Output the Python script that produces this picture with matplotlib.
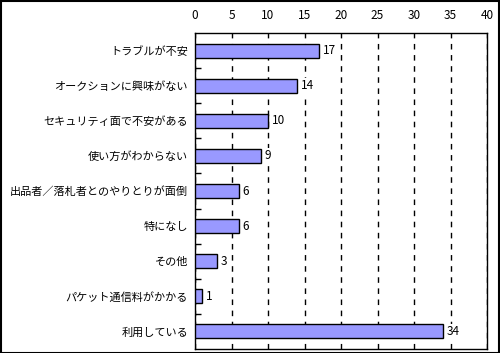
import matplotlib.pyplot as plt
import numpy as np

plt.rcParams['font.family'] = ['Noto Sans CJK JP', 'DejaVu Sans']

categories = ['トラブルが不安', 'オークションに興味がない', 'セキュリティ面で不安がある',
              '使い方がわからない', '出品者／落札者とのやりとりが面倒', '特になし',
              'その他', 'パケット通信料がかかる', '利用している']
values = [17, 14, 10, 9, 6, 6, 3, 1, 34]
xticks = [0, 5, 10, 15, 20, 25, 30, 35, 40]

fig = plt.figure(figsize=(5.0, 3.53), dpi=100)
ax = fig.add_axes([0.39, 0.0113, 0.584, 0.8952])

y = np.arange(len(categories))
ax.barh(y, values, height=0.4, color='#9999ff', edgecolor='black', linewidth=1, zorder=3)
for yi, v in zip(y, values):
    ax.text(v + 0.5, yi, str(v), va='center', ha='left', fontsize=8.5, zorder=4,
            bbox=dict(facecolor='white', edgecolor='none', pad=1))

ax.set_ylim(len(categories) - 0.5, -0.5)
ax.set_xlim(0, 40)
ax.set_xticks(xticks)
ax.xaxis.tick_top()
ax.tick_params(axis='x', length=0, labelsize=8.5, pad=8)
ax.set_yticks(y)
ax.set_yticklabels(categories, fontsize=8)
ax.tick_params(axis='y', which='major', length=0, pad=5)
ax.set_yticks(np.arange(len(categories) - 1) + 0.5, minor=True)
ax.tick_params(axis='y', which='minor', length=4, direction='in', width=1)
ax.grid(axis='x', linestyle=(0, (4, 4)), color='black', linewidth=1, zorder=1)
for s in ax.spines.values():
    s.set_linewidth(1)

fig.patches.append(plt.Rectangle((0.001, 0.001), 0.997, 0.996, transform=fig.transFigure,
                                 fill=False, edgecolor='black', linewidth=1.5))

fig.savefig('out.png', dpi=100)
